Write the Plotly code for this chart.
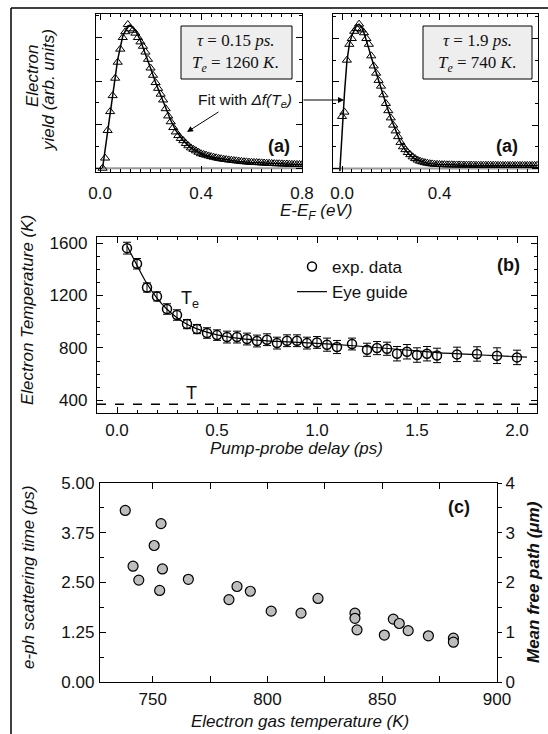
import plotly.graph_objects as go

W, H = 548, 734

# ---------------- data ----------------
# (a) left: tau = 0.15 ps, Te = 1260 K
a1_E = [round(0.01 * i, 2) for i in range(1, 81)]
a1_v = [0.00, 0.07, 0.26, 0.39, 0.50, 0.62, 0.73, 0.82, 0.90, 0.94,
        0.99, 0.96, 0.95, 0.93, 0.90, 0.87, 0.84, 0.80, 0.75, 0.69,
        0.64, 0.59, 0.55, 0.51, 0.47, 0.41, 0.36, 0.32, 0.28, 0.25,
        0.225, 0.205, 0.19, 0.17, 0.155, 0.14, 0.13, 0.12, 0.11, 0.10,
        0.095, 0.09, 0.085, 0.08, 0.076, 0.072, 0.068, 0.065, 0.062, 0.06,
        0.057, 0.055, 0.053, 0.051, 0.049, 0.047, 0.045, 0.044, 0.042, 0.041,
        0.04, 0.039, 0.038, 0.037, 0.036, 0.035, 0.034, 0.033, 0.032, 0.031,
        0.031, 0.03, 0.029, 0.029, 0.028, 0.027, 0.027, 0.026, 0.026, 0.025]
a1_fitE = [0.01, 0.03, 0.05, 0.07, 0.09, 0.11, 0.12, 0.14, 0.16, 0.18, 0.20, 0.22,
           0.24, 0.26, 0.28, 0.30, 0.33, 0.36, 0.40, 0.45, 0.50, 0.55, 0.60, 0.70, 0.80]
a1_fitv = [0.00, 0.25, 0.52, 0.75, 0.91, 0.98, 0.985, 0.95, 0.88, 0.79, 0.69, 0.59,
           0.50, 0.41, 0.33, 0.26, 0.19, 0.14, 0.10, 0.074, 0.058, 0.047, 0.040, 0.030, 0.024]

# (a) right: tau = 1.9 ps, Te = 740 K
a2_E = [round(0.01 * i, 2) for i in range(0, 81)]
a2_v = [0.36, 0.39, 0.75, 0.86, 0.90, 0.95, 0.97, 1.00, 0.96, 0.94,
        0.90, 0.86, 0.78, 0.71, 0.66, 0.61, 0.57, 0.51, 0.45, 0.40,
        0.35, 0.30, 0.26, 0.22, 0.18, 0.15, 0.13, 0.11, 0.095, 0.08,
        0.068, 0.058, 0.05, 0.045, 0.04, 0.036, 0.033, 0.031, 0.029, 0.028,
        0.027, 0.026, 0.026, 0.025, 0.025, 0.025, 0.024, 0.024, 0.024, 0.024,
        0.023, 0.023, 0.023, 0.023, 0.023, 0.022, 0.022, 0.022, 0.022, 0.022,
        0.022, 0.022, 0.022, 0.022, 0.021, 0.021, 0.021, 0.021, 0.021, 0.021,
        0.021, 0.021, 0.021, 0.021, 0.021, 0.021, 0.021, 0.021, 0.021, 0.021, 0.021]
a2_fitE = [-0.009, 0.00, 0.01, 0.02, 0.03, 0.04, 0.05, 0.06, 0.07, 0.08, 0.09, 0.10,
           0.11, 0.12, 0.14, 0.16, 0.18, 0.20, 0.22, 0.24, 0.26, 0.28, 0.30, 0.33,
           0.36, 0.40, 0.50, 0.80]
a2_fitv = [-0.02, 0.26, 0.52, 0.74, 0.86, 0.92, 0.96, 0.99, 1.00, 0.98, 0.94, 0.89,
           0.83, 0.77, 0.66, 0.56, 0.45, 0.35, 0.26, 0.18, 0.125, 0.09, 0.065, 0.045,
           0.033, 0.027, 0.022, 0.020]

# (b) electron temperature vs delay
b_t = [0.05, 0.10, 0.15, 0.20, 0.25, 0.30, 0.35, 0.40, 0.45, 0.50,
       0.55, 0.60, 0.65, 0.70, 0.75, 0.80, 0.85, 0.90, 0.95, 1.00,
       1.05, 1.10, 1.175, 1.25, 1.30, 1.35, 1.40, 1.45, 1.50, 1.55,
       1.60, 1.70, 1.80, 1.90, 2.00]
b_T = [1561, 1442, 1261, 1193, 1097, 1051, 982, 944, 914, 898,
       883, 883, 868, 853, 863, 837, 855, 855, 837, 842,
       825, 807, 830, 786, 799, 794, 756, 771, 746, 756,
       743, 751, 754, 741, 728]
b_err = [45, 40, 35, 35, 40, 40, 35, 35, 40, 40,
         45, 45, 45, 45, 45, 45, 45, 45, 45, 45,
         50, 50, 45, 50, 50, 50, 55, 55, 55, 55,
         55, 55, 55, 60, 55]
guide_t = [0.05, 0.10, 0.15, 0.20, 0.25, 0.30, 0.35, 0.40, 0.50, 0.60,
           0.70, 0.80, 1.00, 1.20, 1.40, 1.60, 1.80, 2.05]
guide_T = [1580, 1430, 1290, 1180, 1095, 1030, 980, 945, 900, 875,
           860, 850, 835, 815, 790, 765, 748, 730]
lattice_t = [-0.1, 2.1]
lattice_T = [370, 370]

# (c) e-ph scattering time vs electron gas temperature
c_T = [738.0, 741.4, 743.9, 750.6, 753.6, 754.2, 753.0, 765.5, 783.2, 786.7,
       792.5, 801.6, 814.6, 822.0, 838.1, 838.1, 839.0, 850.9, 854.8, 857.4,
       861.3, 870.1, 881.0, 881.0]
c_tau = [4.31, 2.91, 2.56, 3.43, 3.98, 2.84, 2.30, 2.58, 2.07, 2.40,
         2.28, 1.78, 1.73, 2.10, 1.73, 1.60, 1.31, 1.18, 1.58, 1.47,
         1.29, 1.16, 1.10, 1.00]

# ---------------- helpers ----------------
def px(x):
    return x / W

def py(y):
    return 1 - y / H

FONT = "Liberation Sans, Arial, Helvetica, sans-serif"
SERIF = "Liberation Serif, Times New Roman, serif"
TICKFONT = dict(family=FONT, size=17, color="#111")

fig = go.Figure()

# (a) left
fig.add_trace(go.Scatter(x=a1_E, y=a1_v, mode="markers", xaxis="x", yaxis="y",
                         marker=dict(symbol="triangle-up-open", size=8, color="black",
                                     line=dict(width=1)), showlegend=False))
fig.add_trace(go.Scatter(x=a1_fitE, y=a1_fitv, mode="lines", xaxis="x", yaxis="y",
                         line=dict(color="black", width=1.5), showlegend=False))
# (a) right
fig.add_trace(go.Scatter(x=a2_E, y=a2_v, mode="markers", xaxis="x2", yaxis="y2",
                         marker=dict(symbol="triangle-up-open", size=8, color="black",
                                     line=dict(width=1)), showlegend=False))
fig.add_trace(go.Scatter(x=a2_fitE, y=a2_fitv, mode="lines", xaxis="x2", yaxis="y2",
                         line=dict(color="black", width=1.5), showlegend=False))

# (b)
fig.add_trace(go.Scatter(x=lattice_t, y=lattice_T, mode="lines", xaxis="x3", yaxis="y3",
                         line=dict(color="black", width=1.5, dash="dash"), showlegend=False))
fig.add_trace(go.Scatter(x=b_t, y=b_T, mode="markers", xaxis="x3", yaxis="y3",
                         name="exp. data",
                         error_y=dict(type="data", array=b_err, color="black",
                                      thickness=1, width=4),
                         marker=dict(symbol="circle-open", size=9, color="black",
                                     line=dict(width=1.5))))
fig.add_trace(go.Scatter(x=guide_t, y=guide_T, mode="lines", xaxis="x3", yaxis="y3",
                         name="Eye guide", line=dict(color="black", width=1.2, shape="spline")))

# (c)
fig.add_trace(go.Scatter(x=c_T, y=c_tau, mode="markers", xaxis="x4", yaxis="y4",
                         marker=dict(symbol="circle", size=10, color="#bdbdbd",
                                     line=dict(color="black", width=1.2)),
                         showlegend=False))
fig.add_trace(go.Scatter(x=[None], y=[None], xaxis="x4", yaxis="y5", showlegend=False,
                         hoverinfo="skip"))

def axis(domain, rng, anchor, **kw):
    d = dict(domain=domain, range=rng, anchor=anchor, showline=True, linecolor="black",
             linewidth=1.3, ticks="inside", tickcolor="black", ticklen=6, tickwidth=1,
             mirror="ticks", showgrid=False, zeroline=False, tickfont=TICKFONT,
             automargin=False)
    d.update(kw)
    return d

xa1 = [px(96), px(302)]
xa2 = [px(333), px(538)]
ya = [py(172), py(14)]
xb = [px(97), px(537)]
yb = [py(413), py(237)]
xc = [px(100), px(497)]
yc = [py(682), py(483)]

minor_a = dict(dtick=0.04, ticks="inside", ticklen=3, tickcolor="black")
minor_ay = dict(dtick=0.15, ticks="inside", ticklen=3, tickcolor="black")

fig.update_layout(
    width=W, height=H, margin=dict(l=0, r=0, t=0, b=0, autoexpand=False),
    paper_bgcolor="white", plot_bgcolor="white",
    xaxis=axis(xa1, [-0.016, 0.8], "y", tickvals=[0.0, 0.4, 0.8], ticktext=["0.0", "0.4", "0.8"],
               minor=minor_a, ticklabelstandoff=5),
    yaxis=axis(ya, [-0.026, 1.062], "x", tick0=0, dtick=0.3, showticklabels=False,
               minor=minor_ay),
    xaxis2=axis(xa2, [-0.037, 0.804], "y2", tickvals=[0.0, 0.4, 0.8], ticktext=["0.0", "0.4", "0.8"],
                minor=minor_a, ticklabelstandoff=5),
    yaxis2=axis(ya, [-0.025, 1.07], "x2", tick0=0, dtick=0.3, showticklabels=False,
                minor=minor_ay),
    xaxis3=axis(xb, [-0.1, 2.1], "y3", tick0=0, dtick=0.5, tickformat=".1f",
                minor=dict(dtick=0.1, ticks="inside", ticklen=3, tickcolor="black"),
                ticklabelstandoff=1),
    yaxis3=axis(yb, [304, 1646], "x3", tick0=400, dtick=400,
                minor=dict(dtick=100, ticks="inside", ticklen=3, tickcolor="black"),
                ticklabelstandoff=5),
    xaxis4=axis(xc, [727, 900], "y4", tick0=750, dtick=50,
                minor=dict(dtick=25, ticks="inside", ticklen=6, tickcolor="black"),
                ticklabelstandoff=1),
    yaxis4=axis(yc, [0, 5], "x4", tick0=0, dtick=1.25, tickformat=".2f", mirror=False,
                minor=dict(dtick=0.625, ticks="inside", ticklen=4, tickcolor="black"),
                ticklabelstandoff=1),
    yaxis5=dict(domain=yc, range=[0, 4], anchor="x4", overlaying="y4", side="right",
                showline=True, linecolor="black", linewidth=1.3, ticks="outside",
                ticklen=4, tickcolor="black", tick0=0, dtick=1, showgrid=False,
                zeroline=False, tickfont=TICKFONT, ticklabelstandoff=0, automargin=False,
                minor=dict(dtick=0.5, ticks="outside", ticklen=4, tickcolor="black")),
    legend=dict(x=px(292), y=py(249), xanchor="left", yanchor="top",
                bgcolor="rgba(0,0,0,0)", font=dict(family=FONT, size=17, color="#111"),
                itemwidth=30, tracegroupgap=0),
    showlegend=True,
)

shapes = [
    # figure frame (left and top)
    dict(type="line", xref="paper", yref="paper", x0=px(11), x1=px(11), y0=0, y1=py(8),
         line=dict(color="black", width=1.5)),
    dict(type="line", xref="paper", yref="paper", x0=px(11), x1=1, y0=py(8), y1=py(8),
         line=dict(color="black", width=1.5)),
    # zero baselines in (a)
    dict(type="line", xref="x domain", yref="y", x0=0, x1=1, y0=0, y1=0,
         line=dict(color="#9a9a9a", width=2), layer="below"),
    dict(type="line", xref="x2 domain", yref="y2", x0=0, x1=1, y0=0, y1=0,
         line=dict(color="#9a9a9a", width=2), layer="below"),
    # parameter boxes
    dict(type="rect", xref="paper", yref="paper", x0=px(181), x1=px(292), y0=py(79), y1=py(26),
         fillcolor="#eeeeee", line=dict(color="black", width=1)),
    dict(type="rect", xref="paper", yref="paper", x0=px(423), x1=px(532), y0=py(79), y1=py(26),
         fillcolor="#eeeeee", line=dict(color="black", width=1)),
]
fig.update_layout(shapes=shapes)

def txt(x, y, s, size=17, family=FONT, weight="normal", style="normal", angle=0,
        xanchor="center", yanchor="middle", color="#111"):
    return dict(x=px(x), y=py(y), xref="paper", yref="paper", text=s, showarrow=False,
                textangle=angle, xanchor=xanchor, yanchor=yanchor,
                font=dict(family=family, size=size, weight=weight, style=style, color=color))

ann = [
    # (a) texts
    txt(236, 40, "<i>τ</i> = 0.15 <i>ps.</i>", size=17, family=SERIF),
    txt(236, 64, "<i>T<sub>e</sub></i> = 1260 <i>K</i>.", size=17, family=SERIF),
    txt(477, 40, "<i>τ</i> = 1.9 <i>ps.</i>", size=17, family=SERIF),
    txt(477, 64, "<i>T<sub>e</sub></i> = 740 <i>K</i>.", size=17, family=SERIF),
    txt(245, 100, "Fit with <i>Δf(T<sub>e</sub>)</i>", size=15.5),
    txt(279, 146, "(a)", size=18, weight="bold"),
    txt(507, 146, "(a)", size=18, weight="bold"),
    txt(33, 76, "Electron", size=17, style="italic", angle=-90),
    txt(48, 90, "yield (arb. units)", size=17, style="italic", angle=-90),
    txt(316, 212, "E-E<sub>F</sub> (eV)", size=17, style="italic"),
    # (b)
    txt(27, 310, "Electron Temperature (K)", size=17, style="italic", angle=-90),
    txt(296, 448, "Pump-probe delay (ps)", size=17, style="italic"),
    txt(508, 265, "(b)", size=18, weight="bold"),
    txt(190, 299, "T<sub>e</sub>", size=18),
    txt(191, 393, "T", size=18),
    # (c)
    txt(28, 578, "e-ph scattering time (ps)", size=17, style="italic", angle=-90),
    txt(533, 582, "Mean free path (μm)", size=17, style="italic", weight="bold", angle=-90),
    txt(300, 721, "Electron gas temperature (K)", size=17, style="italic"),
    txt(459, 507, "(c)", size=18, weight="bold"),
    # arrows
    dict(x=px(344), y=py(100), xref="paper", yref="paper", ax=-42, ay=0, text="",
         showarrow=True, arrowhead=2, arrowsize=1.2, arrowwidth=1, arrowcolor="black"),
    dict(x=px(187), y=py(132), xref="paper", yref="paper", ax=33, ay=-21, text="",
         showarrow=True, arrowhead=2, arrowsize=1.2, arrowwidth=1, arrowcolor="black"),
]
fig.update_layout(annotations=ann)

fig.write_html("out.html", config={"displayModeBar": False},
               post_script="document.body.style.margin='0px';"
                           "document.body.style.overflow='hidden';")
